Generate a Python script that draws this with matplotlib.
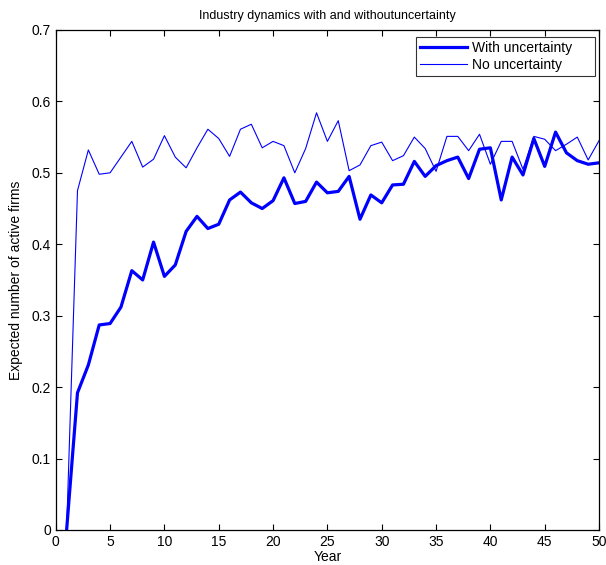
import matplotlib

matplotlib.use("Agg")
import matplotlib.pyplot as plt

years = list(range(1, 51))
with_uncertainty = [
    0.0, 0.192, 0.231, 0.287, 0.289, 0.312, 0.363, 0.350, 0.403, 0.355,
    0.371, 0.418, 0.439, 0.422, 0.428, 0.462, 0.473, 0.458, 0.450, 0.461,
    0.493, 0.457, 0.460, 0.487, 0.472, 0.474, 0.495, 0.435, 0.469, 0.458,
    0.483, 0.484, 0.516, 0.495, 0.510, 0.517, 0.522, 0.492, 0.533, 0.535,
    0.462, 0.522, 0.497, 0.548, 0.509, 0.557, 0.528, 0.517, 0.512, 0.514,
]
no_uncertainty = [
    0.0, 0.475, 0.532, 0.498, 0.500, 0.522, 0.544, 0.508, 0.519, 0.552,
    0.522, 0.507, 0.535, 0.561, 0.548, 0.523, 0.561, 0.568, 0.535, 0.544,
    0.538, 0.500, 0.534, 0.584, 0.544, 0.573, 0.503, 0.511, 0.538, 0.543,
    0.517, 0.524, 0.550, 0.534, 0.502, 0.551, 0.551, 0.531, 0.554, 0.512,
    0.544, 0.544, 0.505, 0.551, 0.547, 0.531, 0.540, 0.550, 0.518, 0.545,
]

plt.rcParams["font.family"] = ["Liberation Sans", "DejaVu Sans"]

fig = plt.figure(figsize=(6.06, 5.65), dpi=100)
ax = fig.add_axes([0.092, 0.062, 0.8965, 0.885])
ax.plot(years, with_uncertainty, color="#0000ff", linewidth=2.3, label="With uncertainty")
ax.plot(years, no_uncertainty, color="#0000ff", linewidth=0.8, label="No uncertainty")

ax.set_xlim(0, 50)
ax.set_ylim(0, 0.7)
ax.set_xticks(range(0, 51, 5))
ax.set_yticks([i / 10 for i in range(8)], ["0", "0.1", "0.2", "0.3", "0.4", "0.5", "0.6", "0.7"])
ax.tick_params(direction="in", top=True, right=True, labelsize=10, length=4, width=0.8)
for spine in ax.spines.values():
    spine.set_linewidth(0.9)

ax.set_title("Industry dynamics with and withoutuncertainty", fontsize=9, pad=8)
ax.set_xlabel("Year", fontsize=10, labelpad=1)
ax.set_ylabel("Expected number of active firms", fontsize=10, labelpad=6)

# MATLAB-style legend box: wider frame with extra space to the right of the text
leg = ax.legend(loc="upper right", bbox_to_anchor=(0.663, 0.905, 0.329, 0.081),
                mode="expand", fontsize=10, frameon=True, fancybox=False,
                borderaxespad=0.0, handlelength=3.4, borderpad=0.3, labelspacing=0.2,
                handletextpad=0.3)
leg.get_frame().set_edgecolor("black")
leg.get_frame().set_linewidth(0.8)

fig.savefig("out.png", dpi=100, facecolor="white")
